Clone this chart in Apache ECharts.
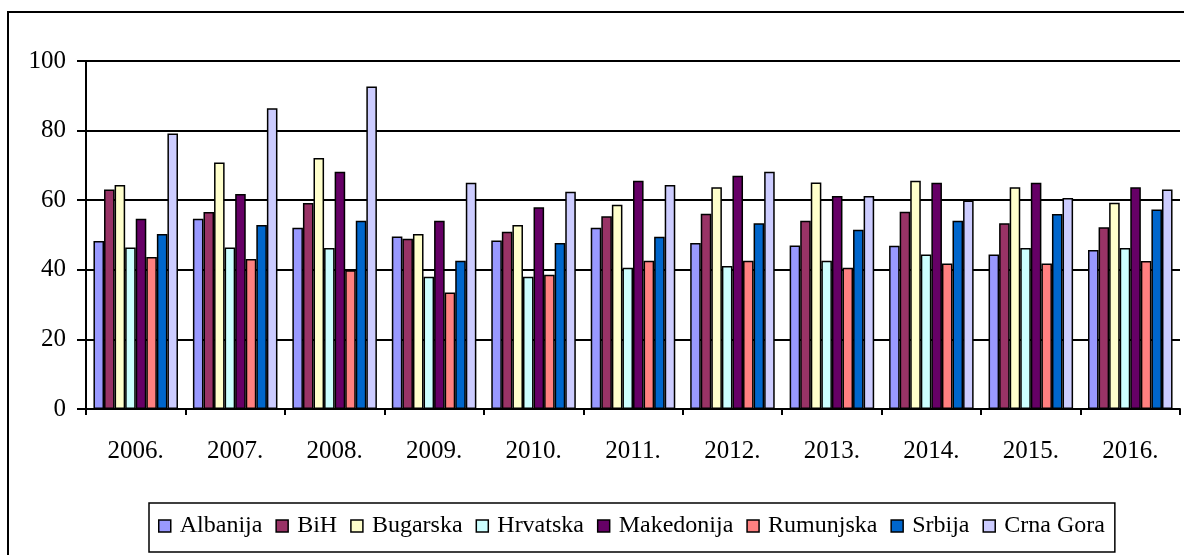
<!DOCTYPE html>
<html>
<head>
<meta charset="utf-8">
<script src="https://cdn.jsdelivr.net/npm/echarts@6/dist/echarts.min.js"></script>
<style>
  html, body { margin: 0; padding: 0; background: #fff; }
  #chart { width: 1184px; height: 555px; }
</style>
</head>
<body>
<div id="chart"></div>
<script>
const years = ['2006.', '2007.', '2008.', '2009.', '2010.', '2011.', '2012.', '2013.', '2014.', '2015.', '2016.'];

const albanija   = [48.3, 54.7, 52.1, 49.6, 48.4, 52.1, 47.7, 47.0, 46.9, 44.4, 45.7];
const bih        = [63.1, 56.6, 59.2, 48.9, 50.9, 55.4, 56.1, 54.1, 56.7, 53.4, 52.2];
const bugarska   = [64.4, 70.8, 72.1, 50.3, 52.9, 58.7, 63.7, 65.1, 65.6, 63.7, 59.3];
const hrvatska   = [46.4, 46.4, 46.3, 38.0, 38.0, 40.6, 41.1, 42.6, 44.4, 46.3, 46.3];
const makedonija = [54.7, 61.8, 68.2, 54.1, 58.0, 65.6, 67.0, 61.2, 65.0, 65.0, 63.7];
const rumunjska  = [43.7, 43.1, 39.9, 33.5, 38.6, 42.6, 42.6, 40.6, 41.8, 41.8, 42.5];
const srbija     = [50.3, 52.9, 54.1, 42.6, 47.7, 49.5, 53.4, 51.5, 54.1, 56.0, 57.3];
const crnaGora   = [79.2, 86.4, 92.7, 65.0, 62.4, 64.4, 68.2, 61.2, 59.9, 60.6, 63.1];

const seriesNames = ['Albanija', 'BiH', 'Bugarska', 'Hrvatska', 'Makedonija', 'Rumunjska', 'Srbija', 'Crna Gora'];
const seriesData = [albanija, bih, bugarska, hrvatska, makedonija, rumunjska, srbija, crnaGora];
const colors = ['#9999FF', '#993366', '#FFFFCC', '#CCFFFF', '#660066', '#FF8080', '#0066CC', '#CCCCFF'];

const font = 'Liberation Serif';

const chart = echarts.init(document.getElementById('chart'));

const option = {
    backgroundColor: '#fff',
    animation: false,
    color: colors,
    textStyle: { fontFamily: font, color: '#000' },
    graphic: [{
        type: 'rect',
        shape: { x: 8, y: 12, width: 1190, height: 560 },
        style: { fill: 'none', stroke: '#000', lineWidth: 2 },
        silent: true
    }],
    grid: { left: 86, right: 4, top: 61, bottom: 146 },
    legend: {
        left: 149,
        top: 503,
        padding: [11, 10, 14, 9],
        itemWidth: 12,
        itemHeight: 12,
        itemGap: 13,
        borderColor: '#000',
        borderWidth: 1.5,
        icon: 'rect',
        itemStyle: { borderColor: '#000', borderWidth: 1.5 },
        formatter: name => '{a|' + name + '}',
        textStyle: {
            fontFamily: font,
            fontSize: 24,
            color: '#000',
            rich: {
                a: { fontFamily: font, fontSize: 24, color: '#000', padding: [0, 0, 0, 4] }
            }
        },
        data: seriesNames
    },
    xAxis: {
        type: 'category',
        data: years,
        axisLine: { lineStyle: { color: '#000', width: 2 } },
        axisTick: { show: true, length: 6, lineStyle: { color: '#000', width: 2 } },
        axisLabel: { fontFamily: font, fontSize: 25, color: '#000', margin: 30 }
    },
    yAxis: {
        type: 'value',
        min: 0,
        max: 100,
        interval: 20,
        axisLine: { show: true, lineStyle: { color: '#000', width: 2 } },
        axisTick: { show: true, length: 9, lineStyle: { color: '#000', width: 2 } },
        axisLabel: { fontFamily: font, fontSize: 25, color: '#000', margin: 20 },
        splitLine: { lineStyle: { color: '#000', width: 2 } }
    },
    series: seriesNames.map((name, i) => ({
        name: name,
        type: 'bar',
        data: seriesData[i],
        barGap: '0%',
        barCategoryGap: '15%',
        itemStyle: { color: colors[i], borderColor: '#000', borderWidth: 1.5 }
    }))
};

chart.setOption(option);
</script>
</body>
</html>
